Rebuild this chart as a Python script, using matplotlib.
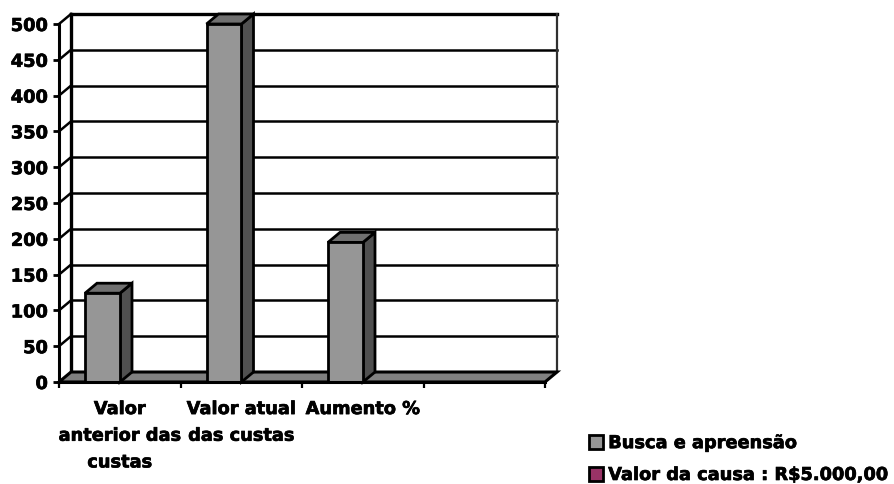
import matplotlib
matplotlib.use("Agg")
import matplotlib.pyplot as plt
import matplotlib.patheffects as pe
from matplotlib.patches import Polygon, Patch

categories = ["Valor\nanterior das\ncustas", "Valor atual\ndas custas", "Aumento %", ""]
busca_values = [124, 500, 195, 0]
causa_values = [0, 0, 0, 0]
series_names = ["Busca e apreensão", "Valor da causa : R$5.000,00"]
y_ticks = list(range(0, 501, 50))

WIDTH, HEIGHT = 894, 484
LEFT, RIGHT, BOTTOM, TOP = 59, 545, 382, 24
# depth of the fake 3d box, in data units
DX = 12 / ((RIGHT - LEFT) / 4)
DY = 10 / ((BOTTOM - TOP) / 500)
BAR_W = 0.288
BAR_OFFSET = 0.214

plt.rcParams["font.family"] = "DejaVu Sans"
plt.rcParams["font.weight"] = "bold"
plt.rcParams["font.size"] = 12.8

fig = plt.figure(figsize=(WIDTH / 100, HEIGHT / 100), dpi=100)
ax = fig.add_axes([LEFT / WIDTH, 1 - BOTTOM / HEIGHT,
                   (RIGHT - LEFT) / WIDTH, (BOTTOM - TOP) / HEIGHT])
ax.set_xlim(0, 4)
ax.set_ylim(0, 500)
ax.patch.set_visible(False)


def add_poly(points, color, z, lw=2.0):
    ax.add_patch(Polygon(points, closed=True, facecolor=color, edgecolor="black",
                         linewidth=lw, zorder=z, clip_on=False, joinstyle="miter"))


# back wall gridlines and their diagonal on the side wall
for v in y_ticks[1:]:
    ax.plot([DX, 4 + DX], [v + DY, v + DY], color="black", lw=1.8, zorder=1, clip_on=False)
    ax.plot([0, DX], [v, v + DY], color="black", lw=1.8, zorder=1, clip_on=False)
ax.plot([DX, 4 + DX], [500 + DY, 500 + DY], color="black", lw=2.4, zorder=1, clip_on=False)
ax.plot([DX, DX], [DY, 500 + DY], color="black", lw=2.4, zorder=1, clip_on=False)
ax.plot([4 + DX, 4 + DX], [DY, 500 + DY], color="#303030", lw=1.6, zorder=1, clip_on=False)

# floor
add_poly([(0, 0), (DX, DY), (4 + DX, DY), (4, 0)], "#808080", 2, lw=2.2)


def draw_bar(i, value, front, side, top):
    x0 = i + BAR_OFFSET
    x1 = x0 + BAR_W
    ax.bar(x0, value, width=BAR_W, align="edge", color=front, edgecolor="black",
           linewidth=2.0, zorder=4, clip_on=False)
    add_poly([(x1, 0), (x1 + DX, DY), (x1 + DX, value + DY), (x1, value)], side, 3)
    add_poly([(x0, value), (x0 + DX, value + DY), (x1 + DX, value + DY), (x1, value)], top, 3)


for i, v in enumerate(busca_values):
    if v > 0:
        draw_bar(i, v, "#969696", "#505050", "#707070")
for i, v in enumerate(causa_values):
    if v > 0:
        draw_bar(i + BAR_W, v, "#993366", "#4d1a33", "#732650")

for name in ["top", "right"]:
    ax.spines[name].set_visible(False)
for name in ["left", "bottom"]:
    ax.spines[name].set_linewidth(2.2)
    ax.spines[name].set_zorder(5)

ax.set_yticks(y_ticks)
ax.set_xticks(range(5))
ax.set_xticklabels([])
ax.set_xticks([0.5, 1.5, 2.5, 3.5], minor=True)
ax.set_xticklabels(categories, minor=True, linespacing=1.62, va="top")
ax.tick_params(axis="y", length=4.5, width=2, pad=3.5)
ax.tick_params(axis="x", which="major", length=4.5, width=1.6)
ax.tick_params(axis="x", which="minor", length=0, pad=13)

handles = [Patch(facecolor="#969696", edgecolor="black", linewidth=2.0),
           Patch(facecolor="#993366", edgecolor="black", linewidth=2.0)]
legend = fig.legend(handles, series_names, loc="lower left",
                    bbox_to_anchor=(589 / WIDTH, 1 - 484 / HEIGHT), frameon=False,
                    handlelength=0.8, handleheight=0.8, handletextpad=0.28,
                    labelspacing=0.78, borderpad=0, borderaxespad=0, fontsize=12.8)

# heavier strokes on the labels
stroke = [pe.withStroke(linewidth=0.5, foreground="black")]
for t in ax.get_yticklabels() + ax.get_xticklabels(minor=True) + legend.get_texts():
    t.set_path_effects(stroke)

fig.savefig("out.png", dpi=100)
plt.close(fig)
